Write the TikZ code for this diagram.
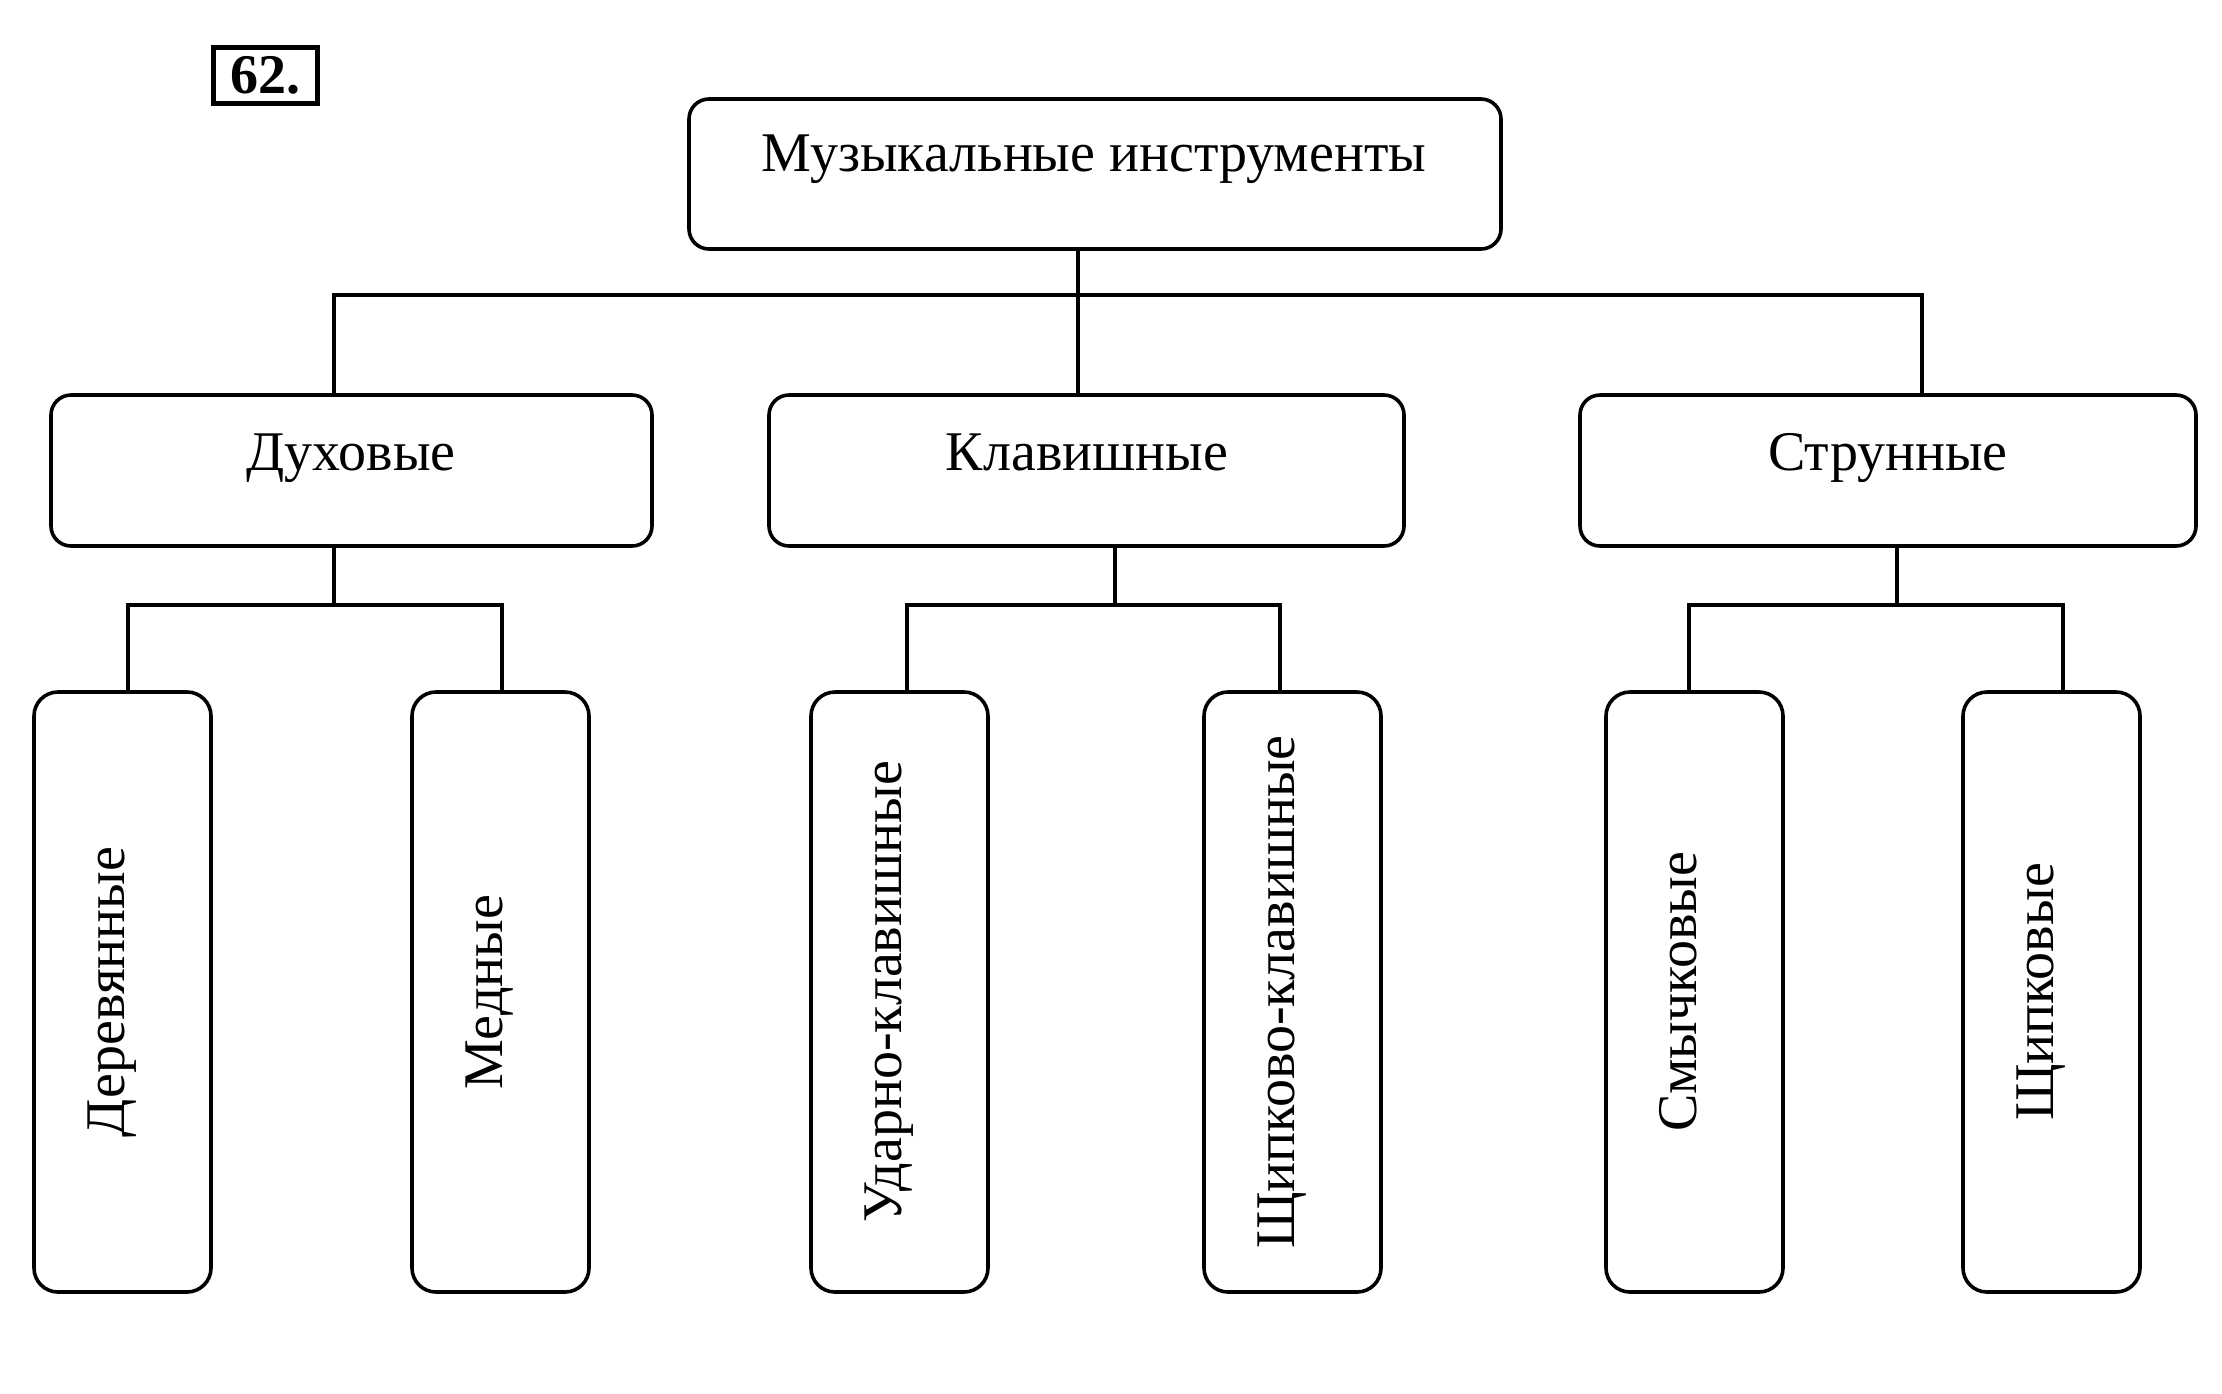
\documentclass[tikz,border=0pt]{standalone}
\usepackage{fontspec}
\setmainfont{Liberation Serif}
\begin{document}
\begin{tikzpicture}[x=1pt,y=-1pt,
  box/.style={draw=black,line width=3.6pt,rounded corners=20pt,inner sep=0pt},
  leafbox/.style={draw=black,line width=3.6pt,rounded corners=24pt,inner sep=0pt,minimum width=177pt,minimum height=600pt},
  lbl/.style={inner sep=0pt,anchor=base,font=\fontsize{56}{60}\selectfont},
  vlbl/.style={inner sep=0pt,anchor=base,font=\fontsize{56}{60}\selectfont,rotate=90},
  conn/.style={draw=black,line width=3.4pt}]
\useasboundingbox (0,0) rectangle (2222,1393);
\fill[white] (0,0) rectangle (2222,1393);
% number
\node[draw=black,line width=5pt,minimum width=104pt,minimum height=56pt,inner sep=0pt,font=\fontsize{56}{60}\selectfont\bfseries] (num) at (265,75) {62.};
% top
\node[box,minimum width=812pt,minimum height=150pt] (top) at (1095,174) {};
\node[lbl] (topt) at (1094,171) {Музыкальные инструменты};
% level 2
\node[box,minimum width=601pt,minimum height=151pt] (duh) at (351.5,470.5) {};
\node[lbl] (duht) at (351,470) {Духовые};
\node[box,minimum width=635pt,minimum height=151pt] (klav) at (1086.5,470.5) {};
\node[lbl] (klavt) at (1087,470) {Клавишные};
\node[box,minimum width=616pt,minimum height=151pt] (str) at (1888,470.5) {};
\node[lbl] (strt) at (1888,470) {Струнные};
% leaves
\node[leafbox] (der) at (122.5,992) {};
\node[vlbl] (dert) at (124.5,992) {Деревянные};
\node[leafbox] (med) at (500.5,992) {};
\node[vlbl] (medt) at (502.5,992) {Медные};
\node[leafbox] (ud) at (899.5,992) {};
\node[vlbl] (udt) at (901.5,992) {Ударно-клавишные};
\node[leafbox] (sch) at (1292.5,992) {};
\node[vlbl] (scht) at (1294.5,992) {Щипково-клавишные};
\node[leafbox] (smy) at (1694.5,992) {};
\node[vlbl] (smyt) at (1696.5,992) {Смычковые};
\node[leafbox] (schp) at (2051.5,992) {};
\node[vlbl] (schpt) at (2053.5,992) {Щипковые};
% connectors level 1
\coordinate (j0) at (1078,295);
\draw[conn] (top.south -| j0) -- (klav.north -| j0);
\draw[conn] (duh.north -| 334,0) |- (j0) -| (str.north -| 1922,0);
% Духовые
\coordinate (j1) at (334,605);
\draw[conn] (duh.south -| j1) -- (j1);
\draw[conn] (der.north -| 128,0) |- (j1) -| (med.north -| 502,0);
% Клавишные
\coordinate (j2) at (1115,605);
\draw[conn] (klav.south -| j2) -- (j2);
\draw[conn] (ud.north -| 907,0) |- (j2) -| (sch.north -| 1280,0);
% Струнные
\coordinate (j3) at (1897,605);
\draw[conn] (str.south -| j3) -- (j3);
\draw[conn] (smy.north -| 1689,0) |- (j3) -| (schp.north -| 2063,0);
\end{tikzpicture}
\end{document}
